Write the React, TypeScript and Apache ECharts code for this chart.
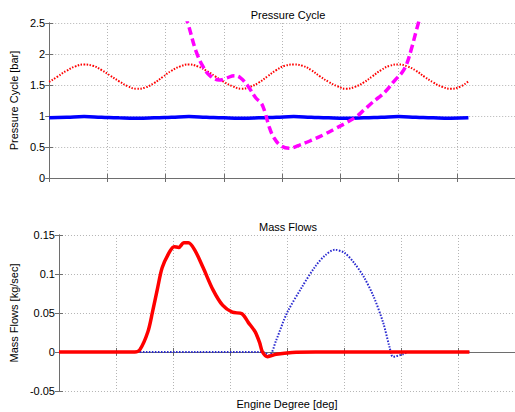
import React, { useEffect, useRef } from "react";
import * as echarts from "echarts";

// ---- Pressure Cycle (top) ----
const redDeg = [0,15,30,45,60,75,90,105,120,135,150,165,180,195,210,225,240,255,270,285,300,315,330,345,360,375,390,405,420,435,450,465,480,495,510,525,540,555,570,585,600,615,630,645,660,675,690,705,720];
const redPressure = [1.55,1.64,1.73,1.80,1.83,1.81,1.74,1.65,1.56,1.48,1.44,1.46,1.53,1.63,1.73,1.80,1.83,1.80,1.73,1.64,1.55,1.48,1.44,1.47,1.54,1.64,1.74,1.81,1.83,1.81,1.74,1.64,1.55,1.48,1.44,1.47,1.54,1.64,1.74,1.81,1.83,1.80,1.73,1.63,1.54,1.47,1.44,1.47,1.56];

const blueDeg = [0,30,60,90,120,150,180,210,240,270,300,330,360,390,420,450,480,510,540,570,600,630,660,690,720];
const bluePressure = [0.97,0.98,0.99,0.98,0.97,0.965,0.97,0.98,0.99,0.98,0.97,0.965,0.97,0.98,0.99,0.98,0.97,0.965,0.97,0.98,0.99,0.98,0.97,0.965,0.97];

const magentaDeg = [226,238,252,264,275,292,304,318,328,340,355,364,370,378,386,398,412,430,451,472,492,510,526,540,554,566,577,594,606,614,622,630,637];
const magentaPressure = [2.8,2.5,2.05,1.8,1.66,1.58,1.61,1.65,1.62,1.50,1.29,1.21,1.08,0.82,0.65,0.52,0.48,0.53,0.61,0.70,0.80,0.89,0.98,1.09,1.21,1.30,1.39,1.58,1.70,1.84,2.08,2.36,2.6];

// ---- Mass Flows (bottom) ----
const redFlowDeg = [0,60,120,133,142,156,164,173,181,193,202,210,219,227,238,253,270,287,304,321,332,344,352,357,366,381,409,450,540,630,720];
const redFlow = [0,0,0,0,0.003,0.026,0.051,0.082,0.108,0.127,0.135,0.134,0.14,0.14,0.131,0.108,0.08,0.06,0.051,0.049,0.038,0.026,0.012,0.0,-0.006,-0.003,-0.0005,0,0,0,0];

const blueFlowDeg = [0,120,240,357,369,381,400,426,449,467,484,501,518,535,552,569,580,586,603,614,660,720];
const blueFlow = [0,0,0,0,-0.004,0.015,0.05,0.083,0.109,0.124,0.131,0.127,0.114,0.096,0.071,0.037,0.006,-0.006,-0.003,0,0,0];

const pressureTicks = { min: 0, max: 2.5, interval: 0.5 };
const flowTicks = { min: -0.05, max: 0.15, interval: 0.05 };
const degTicks = { min: 0, max: 800, interval: 100 };

const pairs = (xs: number[], ys: number[]) => xs.map((x, i) => [x, ys[i]]);

const FONT = "Liberation Sans, Arial, sans-serif";
const AXIS_COLOR = "#6e6e6e";
const GRID_COLOR = "#b4b4b4";

function xAxes(gridIndex: number, withName: boolean) {
  const base = {
    type: "value",
    gridIndex,
    ...degTicks,
    axisLabel: { show: false },
    axisLine: { show: true, lineStyle: { color: AXIS_COLOR, width: 1 } },
    axisTick: { show: true, inside: true, length: 4, lineStyle: { color: AXIS_COLOR } },
  };
  return [
    {
      ...base,
      position: "bottom",
      splitLine: { show: true, lineStyle: { color: GRID_COLOR, type: [1, 2], width: 1 } },
      name: withName ? "Engine Degree [deg]" : "",
      nameLocation: "middle",
      nameGap: 7,
      nameTextStyle: { fontFamily: FONT, fontSize: 11, color: "#000", verticalAlign: "top" },
    },
    { ...base, position: "top", splitLine: { show: false } },
  ];
}

function yAxes(gridIndex: number, ticks: any, name: string, gap: number) {
  return [
    {
      type: "value",
      gridIndex,
      ...ticks,
      position: "left",
      name,
      nameLocation: "middle",
      nameGap: gap,
      nameTextStyle: { fontFamily: FONT, fontSize: 11, color: "#000" },
      axisLabel: { fontFamily: FONT, fontSize: 11, color: "#000", margin: 4 },
      axisLine: { show: true, lineStyle: { color: AXIS_COLOR, width: 1 } },
      axisTick: { show: true, inside: true, length: 4, lineStyle: { color: AXIS_COLOR } },
      splitLine: { show: true, lineStyle: { color: GRID_COLOR, type: [1, 2], width: 1 } },
    },
    {
      type: "value",
      gridIndex,
      ...ticks,
      position: "right",
      axisLabel: { show: false },
      axisLine: { show: true, lineStyle: { color: AXIS_COLOR, width: 1 } },
      axisTick: { show: true, inside: true, length: 4, lineStyle: { color: AXIS_COLOR } },
      splitLine: { show: false },
    },
  ];
}

export default function App() {
  const ref = useRef<HTMLDivElement>(null);
  useEffect(() => {
    if (!ref.current) return;
    const chart = echarts.init(ref.current, null, { renderer: "svg" });
    chart.setOption({
      animation: false,
      backgroundColor: "#fff",
      title: [
        { text: "Pressure Cycle", left: 283, top: 4, textAlign: "center", textStyle: { fontFamily: FONT, fontSize: 11, fontWeight: "normal", color: "#000" } },
        { text: "Mass Flows", left: 283, top: 216, textAlign: "center", textStyle: { fontFamily: FONT, fontSize: 11, fontWeight: "normal", color: "#000" } },
      ],
      grid: [
        { left: 49, top: 23, width: 467, height: 155, containLabel: false },
        { left: 49, top: 235, width: 467, height: 156, containLabel: false },
      ],
      xAxis: [...xAxes(0, false), ...xAxes(1, true)],
      yAxis: [
        ...yAxes(0, pressureTicks, "Pressure Cycle [bar]", 21),
        ...yAxes(1, flowTicks, "Mass Flows [kg/sec]", 31),
      ],
      series: [
        { type: "line", xAxisIndex: 0, yAxisIndex: 0, data: pairs(redDeg, redPressure), smooth: true, showSymbol: false, lineStyle: { color: "#ff0000", width: 2, type: [1.5, 1.5] } },
        { type: "line", xAxisIndex: 0, yAxisIndex: 0, data: pairs(blueDeg, bluePressure), smooth: true, showSymbol: false, lineStyle: { color: "#0000ff", width: 3.5 } },
        { type: "line", xAxisIndex: 0, yAxisIndex: 0, data: pairs(magentaDeg, magentaPressure), smooth: 0.4, showSymbol: false, clip: true, lineStyle: { color: "#ff00ff", width: 3.5, type: [8, 4] } },
        { type: "line", xAxisIndex: 2, yAxisIndex: 2, data: pairs(blueFlowDeg, blueFlow), smooth: 0.3, showSymbol: false, lineStyle: { color: "#2a2ad0", width: 2, type: [1.5, 1.5] } },
        { type: "line", xAxisIndex: 2, yAxisIndex: 2, data: pairs(redFlowDeg, redFlow), smooth: 0.3, showSymbol: false, lineStyle: { color: "#ff0000", width: 3.5 } },
      ],
    });
    return () => chart.dispose();
  }, []);
  return <div ref={ref} style={{ position: "fixed", left: 0, top: 0, width: 515, height: 412 }} />;
}
